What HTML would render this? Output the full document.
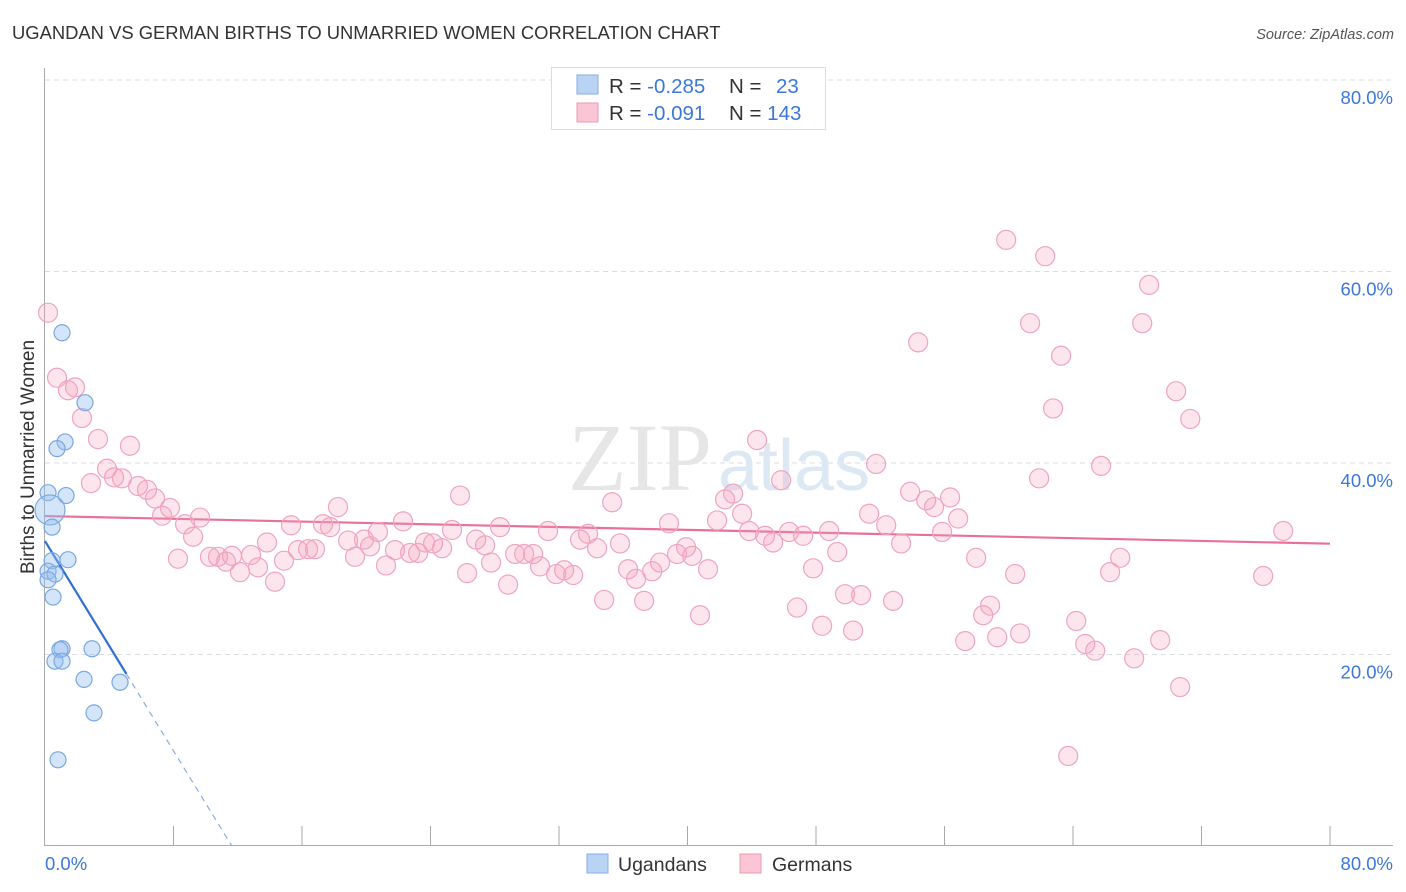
<!DOCTYPE html>
<html><head><meta charset="utf-8"><style>
body{margin:0;background:#fff;font-family:"Liberation Sans",sans-serif}
svg{display:block}
</style></head><body>
<svg id="chart" width="1406" height="892" xmlns="http://www.w3.org/2000/svg">
<text x="12" y="39" font-size="18.4" fill="#333">UGANDAN VS GERMAN BIRTHS TO UNMARRIED WOMEN CORRELATION CHART</text>
<text x="1394" y="39" font-size="14.5" fill="#555" font-style="italic" text-anchor="end">Source: ZipAtlas.com</text>
<text x="34" y="457" font-size="19" fill="#333" text-anchor="middle" transform="rotate(-90 34 457)">Births to Unmarried Women</text>
<g id="grid"></g>
<text x="712" y="490" font-size="96" fill="#e6e6e6" font-family="Liberation Serif,serif" text-anchor="end">ZIP</text>
<text x="718" y="490" font-size="72" fill="#dde8f5">atlas</text>
<g id="axes"></g>
<g id="trend"></g>
<g id="pts"></g>
<g>
<rect x="551.5" y="67.5" width="274" height="62" fill="#fff" stroke="#ddd"/>
<rect x="577" y="75" width="21" height="19" fill="#b9d3f5" stroke="#85adea"/>
<rect x="577" y="103" width="21" height="19" fill="#fac5d5" stroke="#ec9ab5"/>
<text x="609" y="93" font-size="20.5" fill="#333">R = <tspan fill="#3b78d8">-0.285</tspan></text>
<text x="729" y="93" font-size="20.5" fill="#333">N = <tspan x="776" fill="#3b78d8">23</tspan></text>
<text x="609" y="120" font-size="20.5" fill="#333">R = <tspan fill="#3b78d8">-0.091</tspan></text>
<text x="729" y="120" font-size="20.5" fill="#333">N = <tspan fill="#3b78d8">143</tspan></text>
</g>
<g>
<rect x="587" y="854" width="21" height="19" fill="#b9d3f5" stroke="#85adea"/>
<text x="618" y="871" font-size="19.5" fill="#333">Ugandans</text>
<rect x="740" y="854" width="21" height="19" fill="#fac5d5" stroke="#ec9ab5"/>
<text x="772" y="871" font-size="19.5" fill="#333">Germans</text>
</g>
</svg>
<script>
const yTicks=[20,40,60,80];
const yTickLabels=["20.0%","40.0%","60.0%","80.0%"];
const xTicks=[0,8,16,24,32,40,48,56,64,72,80];
const ugX=[1.06,2.49,1.25,0.75,0.19,1.31,0.31,0.44,1.43,0.44,0.19,0.62,0.19,0.50,1.06,0.93,2.93,0.62,1.06,2.43,4.67,3.05,0.81];
const ugY=[53.6,46.3,42.2,41.5,36.9,36.6,35.1,33.3,29.9,29.8,28.7,28.4,27.8,26.0,20.6,20.5,20.6,19.3,19.3,17.4,17.1,13.9,9.0];
const deX=[0.19,0.75,1.43,1.87,2.30,3.30,5.29,3.86,4.30,4.79,2.86,5.79,6.35,6.85,7.78,7.29,9.65,8.72,9.22,8.28,10.27,10.77,11.27,11.64,12.14,12.83,13.26,13.82,14.32,14.88,15.32,15.75,16.38,16.81,17.31,17.75,18.24,18.87,19.30,19.86,20.24,20.73,21.23,21.79,22.29,22.73,23.23,23.66,24.16,24.72,25.34,25.84,26.28,26.84,27.40,27.77,28.33,28.83,29.27,29.83,30.39,30.82,31.32,31.82,32.32,32.88,33.31,33.81,34.37,34.81,35.31,35.80,36.30,36.80,37.30,37.80,38.29,38.85,39.35,39.91,40.29,40.78,41.28,41.84,42.34,42.84,43.40,43.84,44.33,44.83,45.33,45.83,46.33,46.82,47.20,47.82,48.38,48.82,49.32,49.81,50.31,50.81,51.31,51.74,52.37,52.80,53.30,53.86,54.36,54.86,55.35,55.85,56.35,56.85,57.29,57.97,58.41,58.84,59.28,59.84,60.40,60.71,61.33,61.89,62.27,62.76,63.26,63.70,64.20,64.76,65.38,65.75,66.31,66.94,67.81,68.31,68.74,69.43,70.42,70.67,71.30,75.84,77.09];
const deY=[55.7,48.9,47.6,47.9,44.7,42.5,41.8,39.4,38.5,38.4,37.9,37.6,37.2,36.3,35.3,34.5,34.3,33.6,32.3,30.0,30.2,30.2,29.7,30.3,28.6,30.4,29.1,31.7,27.6,29.8,33.5,30.9,31.0,31.0,33.6,33.3,35.4,31.9,30.2,32.0,31.3,32.8,29.3,30.9,33.9,30.6,30.6,31.7,31.6,31.1,33.0,36.6,28.5,32.0,31.4,29.6,33.3,27.3,30.5,30.5,30.5,29.2,32.9,28.4,28.8,28.3,32.0,32.6,31.1,25.7,35.9,31.6,28.9,27.9,25.6,28.7,29.6,33.7,30.5,31.2,30.3,24.1,28.9,34.0,36.2,36.8,34.7,32.9,42.4,32.4,31.7,38.2,32.8,24.9,32.4,29.0,23.0,32.9,30.7,26.3,22.5,26.2,34.7,39.9,33.5,25.6,31.6,37.0,52.6,36.1,35.4,32.8,36.4,34.2,21.4,30.1,24.1,25.1,21.8,63.3,28.4,22.2,54.6,38.4,61.6,45.7,51.2,9.4,23.5,21.1,20.4,39.7,28.6,30.1,19.6,54.6,58.6,21.5,47.5,16.6,44.6,28.2,32.9];
const NS="http://www.w3.org/2000/svg";
const X0=45,X1=1330,Y0=846,Y80=80;
const sx=v=>X0+(X1-X0)*v/80;
const sy=v=>Y0-(Y0-Y80)*v/80;
function mk(tag,attrs,parent){const e=document.createElementNS(NS,tag);for(const k in attrs)e.setAttribute(k,attrs[k]);document.getElementById(parent).appendChild(e);return e;}
yTicks.forEach((t,i)=>{
  const l=mk('line',{x1:45,x2:1393,y1:sy(t),y2:sy(t),stroke:'#dcdcdc','stroke-dasharray':'5,4'},'grid');
  
  
  const tx=mk('text',{x:1393,y:sy(t)+24,'font-size':18.5,fill:'#3b78d8','text-anchor':'end'},'grid');
  tx.textContent=yTickLabels[i];
  
  
});
const ax=mk('line',{x1:45,x2:1393,y1:845.5,y2:845.5,stroke:'#aaa'},'axes');


const ay=mk('line',{x1:44.5,x2:44.5,y1:68,y2:846,stroke:'#aaa'},'axes');


xTicks.forEach(t=>{if(t===0)return;
  const l=mk('line',{x1:sx(t),x2:sx(t),y1:826,y2:846,stroke:'#aaa'},'axes');
  
  
});
const xl0=mk('text',{x:45,y:870,'font-size':18.5,fill:'#3b78d8'},'axes');xl0.textContent='0.0%';


const xl1=mk('text',{x:1393,y:870,'font-size':18.5,fill:'#3b78d8','text-anchor':'end'},'axes');xl1.textContent='80.0%';


function reg(xs,ys){const n=xs.length;let mx=0,my=0;for(let i=0;i<n;i++){mx+=xs[i];my+=ys[i];}mx/=n;my/=n;let sxy=0,sxx=0;for(let i=0;i<n;i++){sxy+=(xs[i]-mx)*(ys[i]-my);sxx+=(xs[i]-mx)**2;}const b=sxy/sxx;return [my-b*mx,b];}
deX.forEach((x,i)=>{
  const c=mk('circle',{cx:sx(x),cy:sy(deY[i]),r:9.5,fill:'rgba(245,160,190,0.28)',stroke:'#eea5bf','stroke-width':1.2},'pts');
  
  
});
ugX.forEach((x,i)=>{
  const c=mk('circle',{cx:sx(x),cy:sy(ugY[i]),r:(i===6?15:8),fill:'rgba(150,190,240,0.4)',stroke:'#7aa8e0','stroke-width':1.2},'pts');
  
  
});
const [da,db]=reg(deX,deY);
const tp=mk('line',{x1:sx(0),y1:sy(da),x2:sx(80),y2:sy(da+db*80),stroke:'#e8709a','stroke-width':2.2},'trend');


const [ua,ub]=reg(ugX,ugY);
const uxMax=Math.max(...ugX)+0.4;
const tu=mk('line',{x1:sx(0),y1:sy(ua),x2:sx(uxMax),y2:sy(ua+ub*uxMax),stroke:'#2f6fd6','stroke-width':2.2},'trend');


const xz=ub<0?-ua/ub:uxMax;
const td=mk('line',{x1:sx(uxMax),y1:sy(ua+ub*uxMax),x2:sx(xz),y2:sy(0),stroke:'#8aaee0','stroke-width':1.2,'stroke-dasharray':'6,5'},'trend');


</script>
</body></html>
